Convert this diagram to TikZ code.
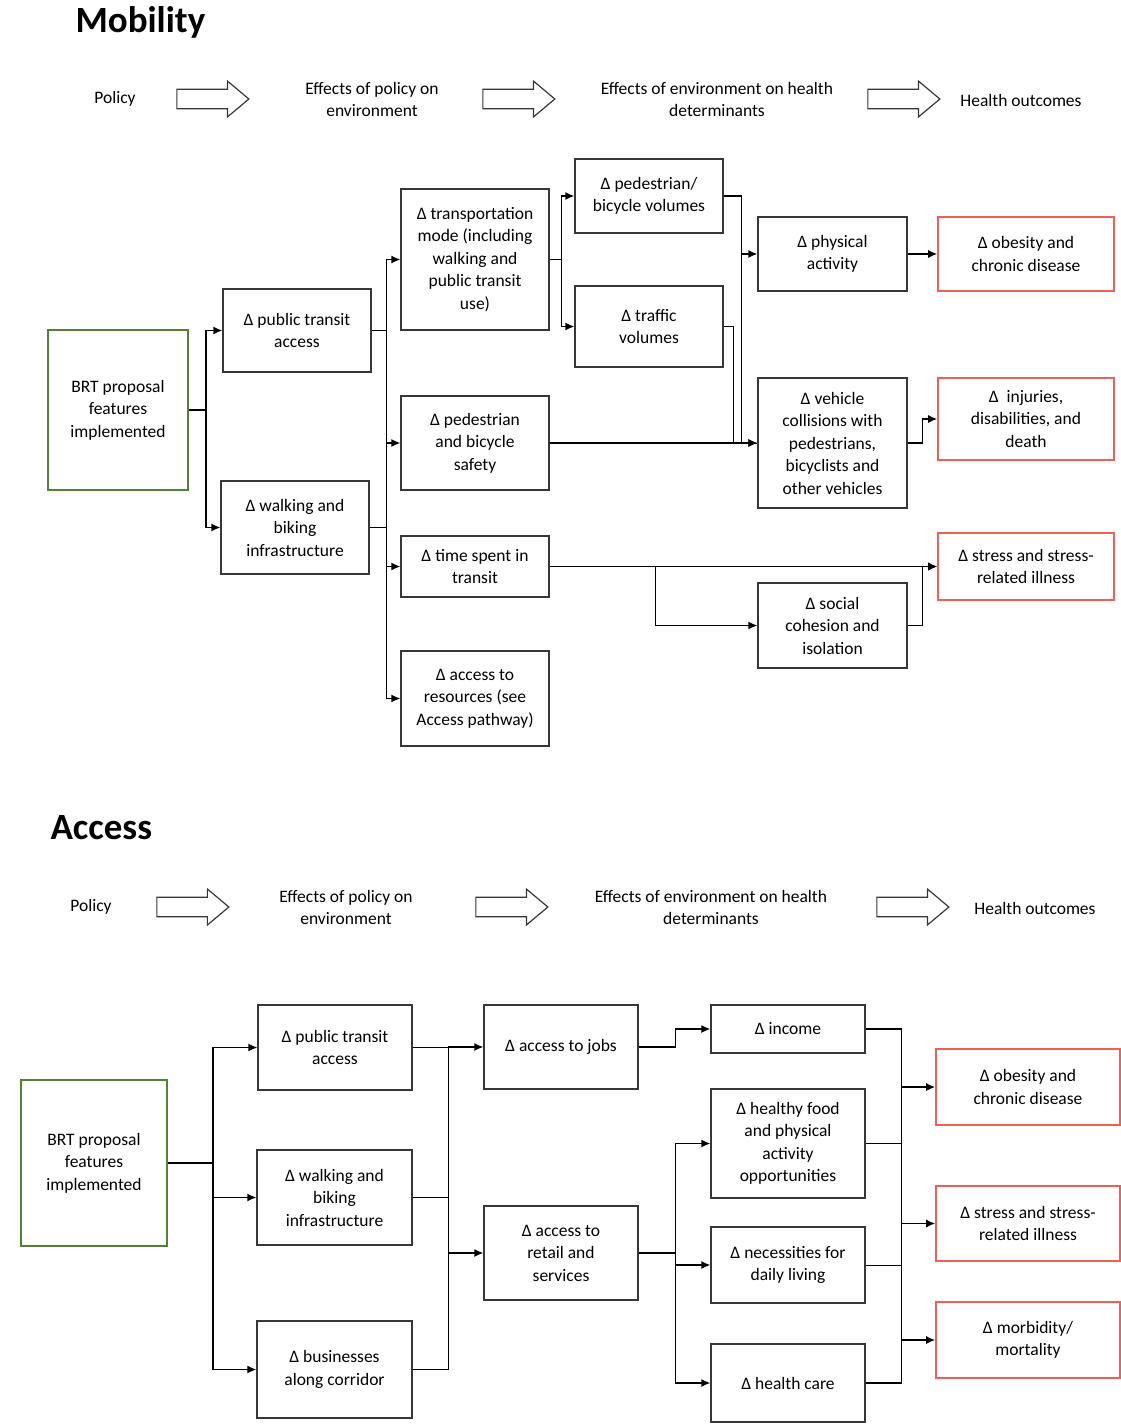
\documentclass[tikz,border=0pt]{standalone}
\usepackage{fontspec}
\setmainfont{Carlito}
\usetikzlibrary{arrows.meta,shapes.arrows}
\definecolor{brtgreen}{RGB}{84,130,53}
\definecolor{outred}{RGB}{236,96,86}
\definecolor{boxgray}{RGB}{55,55,55}

\begin{document}
\begin{tikzpicture}[x=1pt,y=-1pt,
  box/.style={draw=boxgray,line width=1.3pt,align=center,inner sep=2pt,font=\fontsize{17.5}{22.5}\selectfont},
  brt/.style={box,draw=brtgreen,line width=1.6pt},
  outc/.style={box,draw=outred,line width=1.6pt},
  hdr/.style={align=center,font=\fontsize{17.5}{22}\selectfont},
  bigarrow/.style={single arrow,draw=boxgray,line width=1.2pt,minimum height=72pt,minimum width=36pt,single arrow head extend=8pt,inner sep=9pt,single arrow tip angle=80},
  arr/.style={-{Latex[length=9pt,width=8pt]},line width=1.4pt},
  ttl/.style={anchor=west,font=\fontsize{37}{40}\selectfont\bfseries}]
\useasboundingbox (0,0) rectangle (1120,1428);

\node[ttl] at (72,22) (mob) {Mobility};
\node[hdr] at (115,99) (pol1) {Policy};
\node[bigarrow] at (207,99) (ha1) {};
\node[hdr] at (372,99) (epe1) {Effects of policy on\\environment};
\node[bigarrow] at (513,99) (ha2) {};
\node[hdr] at (717,99) (eeh1) {Effects of environment on health\\determinants};
\node[bigarrow] at (898,99) (ha3) {};
\node[hdr] at (1021,100) (ho1) {Health outcomes};

\node[brt,minimum width=140,minimum height=160] at (118,410) (brt) {BRT proposal\\features\\implemented};
\node[box,minimum width=148,minimum height=83] at (297,330.5) (pta) {Δ public transit\\access};
\node[box,minimum width=148,minimum height=93] at (295,527.5) (wbi) {Δ walking and\\biking\\infrastructure};
\node[box,minimum width=148,minimum height=141] at (475,259.5) (tm) {Δ transportation\\mode (including\\walking and\\public transit\\use)};
\node[box,minimum width=148,minimum height=94] at (475,443) (pbs) {Δ pedestrian\\and bicycle\\safety};
\node[box,minimum width=148,minimum height=61] at (475,566.5) (tst) {Δ time spent in\\transit};
\node[box,minimum width=148,minimum height=95] at (475,698.5) (atr) {Δ access to\\resources (see\\Access pathway)};
\node[box,minimum width=148,minimum height=74] at (649,196) (pbv) {Δ pedestrian/\\bicycle volumes};
\node[box,minimum width=148,minimum height=81] at (649,326.5) (tv) {Δ traffic\\volumes};
\node[box,minimum width=149,minimum height=74] at (832.5,254) (pa) {Δ physical\\activity};
\node[box,minimum width=149,minimum height=130] at (832.5,443) (vc) {Δ vehicle\\collisions with\\pedestrians,\\bicyclists and\\other vehicles};
\node[box,minimum width=149,minimum height=85] at (832.5,625.5) (sci) {Δ social\\cohesion and\\isolation};
\node[outc,minimum width=176,minimum height=74] at (1026,254) (ocd) {Δ obesity and\\chronic disease};
\node[outc,minimum width=176,minimum height=82] at (1026,419) (idd) {Δ\ \ injuries,\\disabilities, and\\death};
\node[outc,minimum width=176,minimum height=67] at (1026,566.5) (ssi) {Δ stress and stress-\\related illness};

\draw[arr] (brt.east) -- ++(17,0) |- (pta.west);
\draw[arr] (brt.east) -- ++(17,0) |- (wbi.west);
\draw (pta.east) -- ++(15,0) |- (wbi.east);
\draw[arr] (pta.east) -- ++(15,0) |- (tm.west);
\draw[arr] (pta.east) -- ++(15,0) |- (pbs.west);
\draw[arr] (wbi.east) -- ++(17,0) |- (tst.west);
\draw[arr] (wbi.east) -- ++(17,0) |- (atr.west);
\draw[arr] (tm.east) -- ++(12,0) |- (pbv.west);
\draw[arr] (tm.east) -- ++(12,0) |- (tv.west);
\draw[arr] (pbv.east) -- ++(18,0) |- (pa.west);
\draw[arr] (pbv.east) -- ++(18,0) |- (vc.west);
\draw (tv.east) -- ++(10,0) |- (vc.west);
\draw[arr] (pbs) -- (vc);
\draw[arr] (pa) -- (ocd);
\draw[arr] (vc.east) -- ++(15,0) |- (idd.west);
\draw[arr] (tst) -- (ssi);
\draw[arr] (tst.east) -- ++(106,0) |- (sci.west);
\draw[arr] (sci.east) -- ++(15,0) |- (ssi.west);

\node[ttl] at (47,828) (acc) {Access};
\node[hdr] at (91,907) (pol2) {Policy};
\node[bigarrow] at (187,907) (ha4) {};
\node[hdr] at (346,907) (epe2) {Effects of policy on\\environment};
\node[bigarrow] at (506,907) (ha5) {};
\node[hdr] at (711,907) (eeh2) {Effects of environment on health\\determinants};
\node[bigarrow] at (907,907) (ha6) {};
\node[hdr] at (1035,908) (ho2) {Health outcomes};

\node[brt,minimum width=146,minimum height=166] at (94,1163) (brt2) {BRT proposal\\features\\implemented};
\node[box,minimum width=154,minimum height=85] at (335,1047.5) (pta2) {Δ public transit\\access};
\node[box,minimum width=155,minimum height=95] at (334.5,1197.5) (wbi2) {Δ walking and\\biking\\infrastructure};
\node[box,minimum width=155,minimum height=97] at (334.5,1369.5) (bac) {Δ businesses\\along corridor};
\node[box,minimum width=154,minimum height=84] at (561,1047) (atj) {Δ access to jobs};
\node[box,minimum width=154,minimum height=94] at (561,1253) (ars) {Δ access to\\retail and\\services};
\node[box,minimum width=154,minimum height=48] at (788,1029) (inc) {Δ income};
\node[box,minimum width=154,minimum height=109] at (788,1143.5) (hfp) {Δ healthy food\\and physical\\activity\\opportunities};
\node[box,minimum width=154,minimum height=76] at (788,1265) (ndl) {Δ necessities for\\daily living};
\node[box,minimum width=154,minimum height=78] at (788,1383) (hc) {Δ health care};
\node[outc,minimum width=184,minimum height=76] at (1028,1087) (ocd2) {Δ obesity and\\chronic disease};
\node[outc,minimum width=184,minimum height=75] at (1028,1223.5) (ssi2) {Δ stress and stress-\\related illness};
\node[outc,minimum width=184,minimum height=76] at (1028,1340) (mm) {Δ morbidity/\\mortality};

\draw[arr] (brt2.east) -- ++(45,0) |- (pta2.west);
\draw[arr] (brt2.east) -- ++(45,0) |- (wbi2.west);
\draw[arr] (brt2.east) -- ++(45,0) |- (bac.west);
\draw (bac.east) -- ++(36,0) |- (pta2.east);
\draw (wbi2.east) -- ++(36,0);
\draw[arr] (pta2.east) -- ++(36,0) |- (atj.west);
\draw[arr] (pta2.east) -- ++(36,0) |- (ars.west);
\draw[arr] (atj.east) -- ++(37,0) |- (inc.west);
\draw[arr] (ars.east) -- ++(37,0) |- (hfp.west);
\draw[arr] (ars.east) -- ++(37,0) |- (ndl.west);
\draw[arr] (ars.east) -- ++(37,0) |- (hc.west);
\draw (inc.east) -- ++(36,0) |- (hc.east);
\draw (ndl.east) -- ++(36,0);
\draw[arr] (inc.east) -- ++(36,0) |- (ocd2.west);
\draw[arr] (hfp.east) -- ++(36,0) |- (ssi2.west);
\draw[arr] (hc.east) -- ++(36,0) |- (mm.west);
\end{tikzpicture}
\end{document}
